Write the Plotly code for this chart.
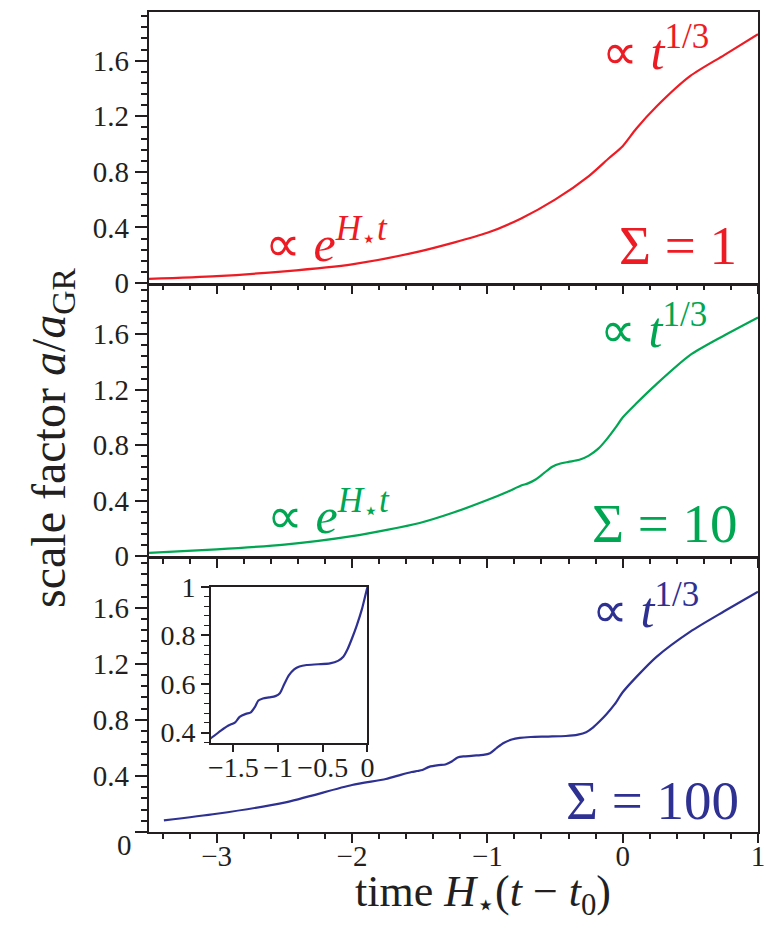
import plotly.graph_objects as go

# ---------------- data ----------------
red_x = [-3.5, -3.0, -2.5, -2.0, -1.5, -1.0, -0.75, -0.5, -0.25, -0.1, 0.0, 0.1, 0.25, 0.5, 0.75, 1.0]
red_y = [0.03, 0.05, 0.085, 0.135, 0.228, 0.362, 0.465, 0.6, 0.77, 0.9, 0.985, 1.11, 1.27, 1.49, 1.64, 1.79]

green_x = [-3.5, -3.0, -2.5, -2.0, -1.5, -1.25, -1.0, -0.85, -0.75, -0.70, -0.64, -0.58, -0.52,
           -0.46, -0.40, -0.32, -0.25, -0.18, -0.12, -0.05, 0.0, 0.1, 0.25, 0.5, 0.75, 1.0]
green_y = [0.024, 0.05, 0.084, 0.145, 0.24, 0.315, 0.405, 0.465, 0.51, 0.525, 0.555, 0.6, 0.645,
           0.668, 0.68, 0.695, 0.725, 0.775, 0.84, 0.93, 1.0, 1.1, 1.24, 1.45, 1.59, 1.72]

blue_x = [-3.39, -3.0, -2.5, -2.0, -1.75, -1.64, -1.56, -1.52, -1.48, -1.43, -1.36, -1.31, -1.26,
          -1.22, -1.17, -1.10, -1.03, -0.98, -0.93, -0.88, -0.82, -0.76, -0.68, -0.55, -0.42,
          -0.33, -0.27, -0.22, -0.17, -0.12, -0.06, 0.0, 0.1, 0.25, 0.5, 0.75, 1.0]
blue_y = [0.083, 0.13, 0.21, 0.335, 0.378, 0.408, 0.428, 0.435, 0.442, 0.465, 0.477, 0.482, 0.505,
          0.532, 0.540, 0.545, 0.550, 0.562, 0.600, 0.635, 0.660, 0.672, 0.678, 0.681, 0.685,
          0.695, 0.712, 0.745, 0.79, 0.84, 0.91, 0.997, 1.105, 1.25, 1.43, 1.575, 1.715]

sigma_labels = ["Σ = 1", "Σ = 10", "Σ = 100"]
colors = ["#ED1C24", "#00A651", "#2E3192"]

# ---------------- layout helpers ----------------
W, H = 767, 936
L, R, T, B = 149, 757.6, 12, 832
def px(X):
    return (X - L) / (R - L)
def py(Y):
    return 1 - (Y - T) / (B - T)

FONT = "Liberation Serif"
INK = "#231F20"
TICK = 29
LW = 2.4

fig = go.Figure()

series = [(red_x, red_y), (green_x, green_y), (blue_x, blue_y)]
for i, (xs, ys) in enumerate(series):
    fig.add_trace(go.Scatter(
        x=xs, y=ys, mode="lines",
        line=dict(color=colors[i], width=2.2, shape="spline", smoothing=0.7),
        xaxis="x" if i == 0 else f"x{i+1}", yaxis="y" if i == 0 else f"y{i+1}",
        showlegend=False, hoverinfo="skip"))

# inset
fig.add_trace(go.Scatter(
    x=blue_x, y=blue_y, mode="lines",
    line=dict(color=colors[2], width=2.2, shape="spline", smoothing=0.7),
    xaxis="x4", yaxis="y4", showlegend=False, hoverinfo="skip"))

# shared borders: leave a line-width gap so the two frame lines coincide
b1, b2 = 284.3, 557.5
domains = [[py(b1 - LW / 2), 1.0],
           [py(b2 - LW / 2), py(b1 + LW / 2)],
           [0.0, py(b2 + LW / 2)]]

def xaxis_cfg(anchor, show_labels):
    return dict(domain=[0, 1], range=[-3.5, 1], anchor=anchor, automargin=False,
                showline=True, linecolor=INK, linewidth=LW, mirror=True,
                ticks="outside", ticklen=9, tickwidth=2, tickcolor=INK,
                dtick=1, tick0=0, showgrid=False, zeroline=False,
                showticklabels=show_labels, ticklabelstandoff=-12,
                tickfont=dict(family=FONT, size=TICK, color=INK),
                minor=dict(dtick=0.2, tick0=0, ticks="outside", ticklen=5,
                           tickwidth=1.6, tickcolor=INK, showgrid=False))

def yaxis_cfg(anchor, dom, ticktext=None):
    d = dict(domain=dom, range=[0, 1.95], anchor=anchor, automargin=False,
             showline=True, linecolor=INK, linewidth=LW, mirror=True,
             ticks="outside", ticklen=12, tickwidth=2, tickcolor=INK,
             showgrid=False, zeroline=False,
             tickfont=dict(family=FONT, size=TICK, color=INK),
             minor=dict(dtick=0.08, tick0=0, ticks="outside", ticklen=6,
                        tickwidth=1.6, tickcolor=INK, showgrid=False))
    if ticktext is None:
        d.update(dtick=0.4, tick0=0)
    else:
        d.update(tickmode="array", tickvals=[0, 0.4, 0.8, 1.2, 1.6], ticktext=ticktext)
    return d

fig.update_layout(
    template="none",
    width=W, height=H, autosize=False,
    margin=dict(l=L, r=W - R, t=T, b=H - B, pad=0, autoexpand=False),
    paper_bgcolor="white", plot_bgcolor="white",
    xaxis=xaxis_cfg("y", False),
    yaxis=yaxis_cfg("x", domains[0]),
    xaxis2=xaxis_cfg("y2", False),
    yaxis2=yaxis_cfg("x2", domains[1]),
    xaxis3=xaxis_cfg("y3", True),
    yaxis3=yaxis_cfg("x3", domains[2], ["", "0.4", "0.8", "1.2", "1.6"]),
    xaxis4=dict(domain=[px(211), px(367.3)], range=[-1.75, 0], anchor="y4", automargin=False,
                showline=True, linecolor=INK, linewidth=2, mirror=True,
                ticks="outside", ticklen=7, tickwidth=1.8, tickcolor=INK,
                tickvals=[-1.5, -1, -0.5, 0], ticktext=["−1.5", "−1", "−0.5", "0"],
                showgrid=False, zeroline=False, ticklabelstandoff=-9,
                tickfont=dict(family=FONT, size=28, color=INK)),
    yaxis4=dict(domain=[py(743.3), py(586.7)], range=[0.356, 1.0], anchor="x4", automargin=False,
                showline=True, linecolor=INK, linewidth=2, mirror=True,
                ticks="outside", ticklen=8, tickwidth=1.8, tickcolor=INK,
                dtick=0.2, tick0=0, showgrid=False, zeroline=False,
                tickfont=dict(family=FONT, size=28, color=INK),
                minor=dict(dtick=0.04, tick0=0, ticks="outside", ticklen=5,
                           tickwidth=1.4, tickcolor=INK, showgrid=False)),
)

ann = []
def text(X, Y, s, size, color, **kw):
    d = dict(x=px(X), y=py(Y), xref="paper", yref="paper", text=s, showarrow=False,
             xanchor="center", yanchor="middle",
             font=dict(family=FONT, size=size, color=color))
    d.update(kw)
    ann.append(d)

t13 = "∝ <i>t</i><sup>1/3</sup>"
eH = "∝ <i>e</i><sup><i>H</i><sub>⋆</sub><i>t</i></sup>"

# panel 1
text(655, 48, t13, 50, colors[0])
text(326, 240, eH, 50, colors[0])
text(678, 245, sigma_labels[0], 55, colors[0])
# panel 2
text(653, 326, t13, 50, colors[1])
text(328, 512, eH, 50, colors[1])
text(665, 523, sigma_labels[1], 55, colors[1])
# panel 3
text(645, 606, t13, 50, colors[2])
text(652, 800, sigma_labels[2], 55, colors[2])

# bottom "0" tick label of the lowest panel (sits slightly low in the reference)
text(125, 845, "0", TICK, INK)

# axis titles
text(483, 894, "time <i>H</i><sub>⋆</sub>(<i>t</i> − <i>t</i><sub>0</sub>)", 44, INK)
text(52, 438, "scale factor <i>a</i>/<i>a</i><sub>GR</sub>", 48, INK, textangle=-90)

fig.update_layout(annotations=ann)
fig.write_html("out.html", config={"displayModeBar": False},
               post_script="document.body.style.margin='0px';document.body.style.overflow='hidden';")
